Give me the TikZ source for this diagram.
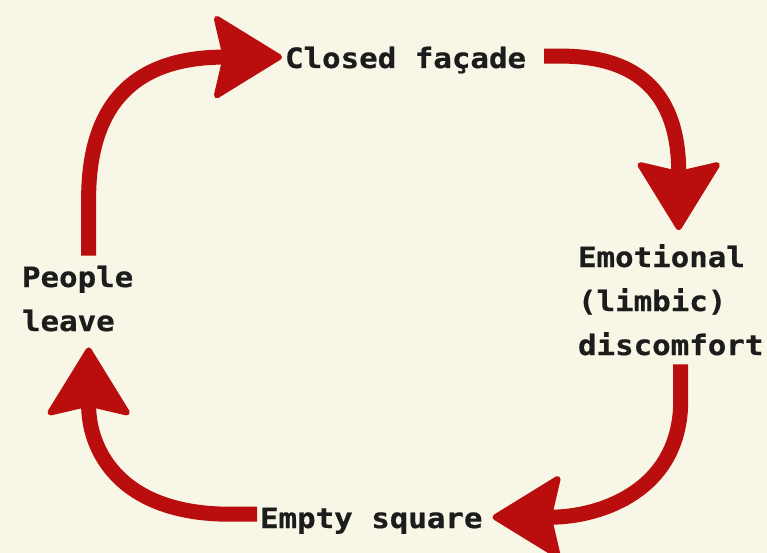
\documentclass[tikz,border=0pt]{standalone}
\usepackage{fontspec}
\usetikzlibrary{arrows.meta,calc}
\newfontfamily\labfont[FakeStretch=1.10,FakeBold=0.6]{DejaVu Sans Mono Bold}
\definecolor{bgcream}{HTML}{F8F6E6}
\definecolor{loopred}{HTML}{BA0E0E}
\definecolor{inkblack}{HTML}{1C1C1C}
\tikzset{
  lab/.style={inner sep=0pt, outer sep=0pt, align=left, anchor=base west,
    text=inkblack, font=\labfont\fontsize{28}{44}\selectfont},
  loop/.style={draw=loopred, line width=15pt, line cap=butt,
    -{Stealth[length=72pt,width=88pt,inset=10pt,round,line width=6pt,fill=loopred]}}
}
\begin{document}
\begin{tikzpicture}[x=1pt,y=-1pt]
\fill[bgcream] (0,0) rectangle (767,553);
\useasboundingbox (0,0) rectangle (767,553);

% base anchor of a multi-line node is on its last line
\node[lab] (closed) at (285,68) {Closed façade};
\node[lab] (emo) at (578,355) {Emotional\\(limbic)\\discomfort};
\node[lab] (people) at (22,331) {People\\leave};
\node[lab] (empty) at (260,528) {Empty square};

% Closed facade -> Emotional discomfort
\draw[loop] ($(closed.east)+(18,-4)$) -- ++(17,0)
  .. controls +(90,0) and ($(emo.north)+(8,-137)$) .. ($(emo.north)+(8,-14)$);
% Emotional discomfort -> Empty square
\draw[loop] ($(emo.south)+(10,9)$) -- ++(0,36)
  .. controls +(0,90) and ($(empty.east)+(118,-3.5)$) .. ($(empty.east)+(10,-3.5)$);
% Empty square -> People leave
\draw[loop] ($(empty.west)+(-3,-6.5)$) -- ++(-27,0)
  .. controls +(-110,0) and ($(people.south)+(11,119)$) .. ($(people.south)+(11,16)$);
% People leave -> Closed facade
\draw[loop] ($(people.north)+(11,-10)$) -- ++(0,-57)
  .. controls +(0,-90) and ($(closed.west)+(-155,-3)$) .. ($(closed.west)+(-3,-3)$);
\end{tikzpicture}
\end{document}
